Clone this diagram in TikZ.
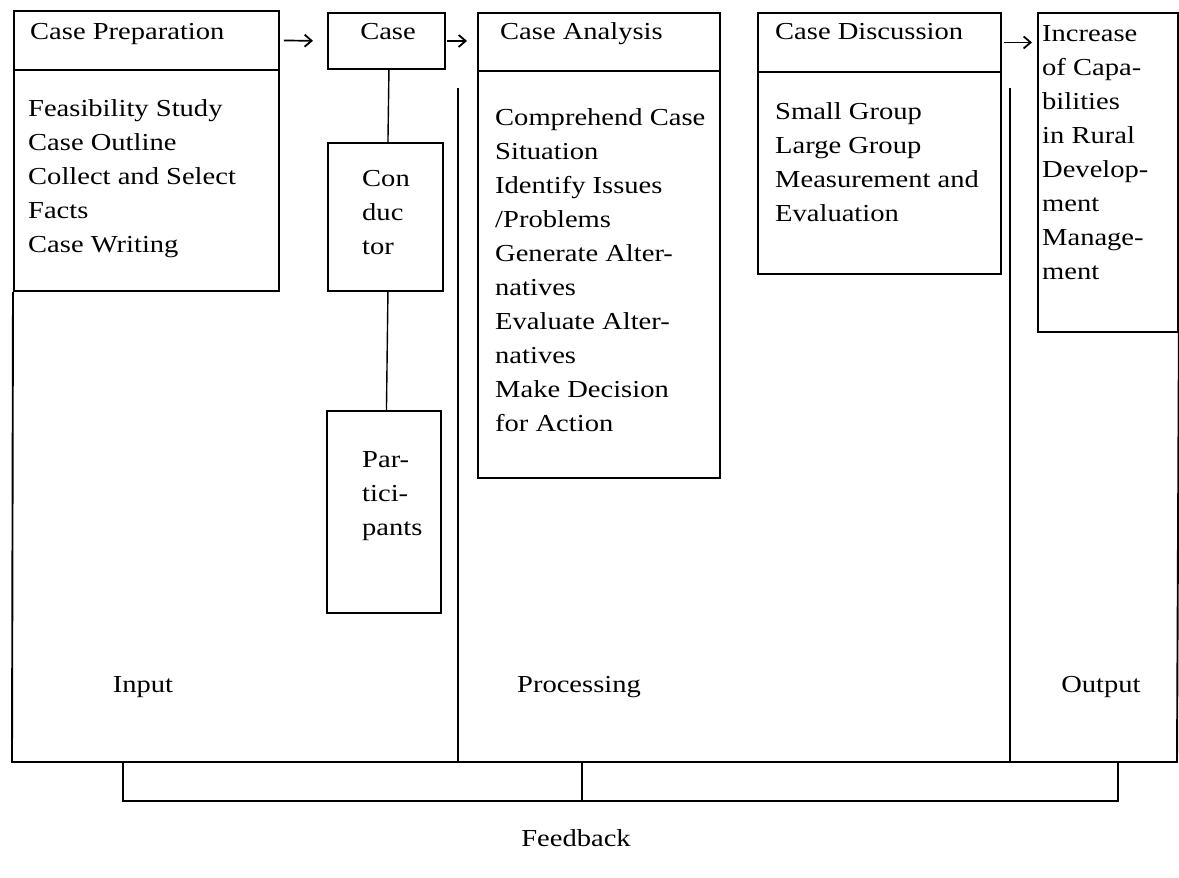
\documentclass[tikz,border=0pt]{standalone}
\usepackage{fontspec}
\setmainfont{Liberation Serif}[FakeStretch=1.17]
\usetikzlibrary{arrows.meta}
\tikzset{
  box/.style={draw, line width=1.9pt, inner sep=0pt, anchor=north west},
  lbl/.style={font=\fontsize{24.4}{34}\selectfont, inner sep=0pt},
  head/.style={lbl, anchor=base west},
  body/.style={lbl, align=left, anchor=north west, execute at begin node={\rule{0pt}{18pt}}},
  conn/.style={line width=1.4pt},
  frame/.style={line width=1.9pt},
  arr/.style={line width=1.7pt, -{Straight Barb[length=7pt,width=12pt,line width=1.8pt]}},
}
\begin{document}
\begin{tikzpicture}[x=1pt,y=-1pt]
\useasboundingbox (0,0) rectangle (1179,878);
% boxes
\node[box, minimum width=265pt, minimum height=59pt] (prephead) at (13,10) {};
\node[box, minimum width=265pt, minimum height=221pt] (prepbody) at (13,69) {};
\node[box, minimum width=117pt, minimum height=56pt] (casebox) at (327,12) {};
\node[box, minimum width=242pt, minimum height=58pt] (anahead) at (477,12) {};
\node[box, minimum width=242pt, minimum height=407pt] (anabody) at (477,70) {};
\node[box, minimum width=243pt, minimum height=59pt] (dischead) at (757,12) {};
\node[box, minimum width=243pt, minimum height=202pt] (discbody) at (757,71) {};
\node[box, minimum width=140pt, minimum height=319pt] (outbox) at (1037,12) {};
\node[box, minimum width=115pt, minimum height=148pt] (conductor) at (327,142) {};
\node[box, minimum width=114pt, minimum height=202pt] (participants) at (326,410) {};
% frame
\coordinate (bl) at (12,762);
\coordinate (br) at (1177,762);
\draw[frame] (prepbody.south west) -- (bl) -- (br) -- (outbox.south east);
\coordinate (d1t) at (458,88); \coordinate (d1b) at (458,762);
\coordinate (d2t) at (1010,88); \coordinate (d2b) at (1010,762);
\draw[frame] (d1t) -- (d1b);
\draw[frame] (d2t) -- (d2b);
% feedback bracket
\coordinate (f1) at (123,762); \coordinate (f1b) at (123,801);
\coordinate (f2) at (582,762); \coordinate (f2b) at (582,801);
\coordinate (f3) at (1118,762); \coordinate (f3b) at (1118,801);
\draw[frame] (f1) -- (f1b) -- (f3b) -- (f3);
\draw[frame] (f2) -- (f2b);
% connectors
\draw[arr, shorten <=4pt, shorten >=14pt] (prephead.east) -- (casebox.west);
\draw[arr, shorten <=1pt, shorten >=10pt] (casebox.east) -- (casebox.east -| anahead.west);
\draw[arr, shorten <=2pt, shorten >=5pt] (dischead.east) -- (dischead.east -| outbox.west);
\draw[conn] ([xshift=2.5pt]casebox.south) -- ([xshift=2.5pt]conductor.north);
\draw[conn] ([xshift=2.5pt]conductor.south) -- ([xshift=2.5pt]participants.north);
% texts
\node[head] (tprep) at (30,39) {Case Preparation};
\node[lbl, anchor=base] (tcase) at (388,39) {Case};
\node[head] (tana) at (500,39) {Case Analysis};
\node[head] (tdisc) at (775,39) {Case Discussion};
\node[body] (tout) at (1042,25) {Increase\\of Capa-\\bilities\\in Rural\\Develop-\\ment\\Manage-\\ment};
\node[body] (tprepi) at (28,99) {Feasibility Study\\Case Outline\\Collect and Select\\Facts\\Case Writing};
\node[body] (tanai) at (495,108) {Comprehend Case\\Situation\\Identify Issues\\/Problems\\Generate Alter-\\natives\\Evaluate Alter-\\natives\\Make Decision\\for Action};
\node[body] (tdisci) at (775,102) {Small Group\\Large Group\\Measurement and\\Evaluation};
\node[body] (tcond) at (362,170.5) {Con\\duc\\tor};
\node[body] (tpart) at (362,451) {Par-\\tici-\\pants};
\node[lbl, anchor=base] (tin) at (143,692) {Input};
\node[lbl, anchor=base] (tproc) at (579,692) {Processing};
\node[lbl, anchor=base] (toutl) at (1101,692) {Output};
\node[lbl, anchor=base] (tfeed) at (576,846) {Feedback};
\end{tikzpicture}
\end{document}
